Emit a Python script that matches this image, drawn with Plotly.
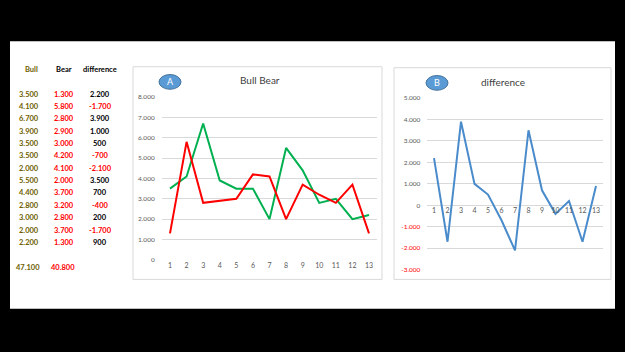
import plotly.graph_objects as go

# ---- data ----
categories = [str(i) for i in range(1, 14)]
bull = [3500, 4100, 6700, 3900, 3500, 3500, 2000, 5500, 4400, 2800, 3000, 2000, 2200]
bear = [1300, 5800, 2800, 2900, 3000, 4200, 4100, 2000, 3700, 3200, 2800, 3700, 1300]
difference = [2200, -1700, 3900, 1000, 500, -700, -2100, 3500, 700, -400, 200, -1700, 900]
bull_total = 47100
bear_total = 40800
ticks_a = [0, 1000, 2000, 3000, 4000, 5000, 6000, 7000, 8000]
ticks_b = [-3000, -2000, -1000, 0, 1000, 2000, 3000, 4000, 5000]

W, H = 625, 352
def px(x):
    return x / W
def py(y):
    return 1 - y / H

def fmt(v):
    s = f"{abs(v):,}".replace(",", ".")
    return ("-" if v < 0 else "") + s

FONT = "Lato"
OLIVE = "#6E5E00"
GREEN = "#00B050"
RED = "#FF0000"
BLUE = "#4A8BCB"
GRID = "#D9D9D9"
TICK = "#595959"

fig = go.Figure()
fig.add_trace(go.Scatter(x=categories, y=bull, mode="lines", line=dict(color=GREEN, width=2),
                         xaxis="x", yaxis="y", name="Bull"))
fig.add_trace(go.Scatter(x=categories, y=bear, mode="lines", line=dict(color=RED, width=2),
                         xaxis="x", yaxis="y", name="Bear"))
fig.add_trace(go.Scatter(x=categories, y=difference, mode="lines", line=dict(color=BLUE, width=2),
                         xaxis="x2", yaxis="y2", name="difference"))

shapes = [
    dict(type="rect", xref="paper", yref="paper", x0=px(10), x1=px(615), y0=py(311), y1=py(38),
         fillcolor="white", line=dict(width=0), layer="below"),
    dict(type="rect", xref="paper", yref="paper", x0=px(133), x1=px(382), y0=py(281), y1=py(64),
         fillcolor="rgba(0,0,0,0)", line=dict(color=GRID, width=1), layer="below"),
    dict(type="rect", xref="paper", yref="paper", x0=px(394), x1=px(611), y0=py(281), y1=py(65),
         fillcolor="rgba(0,0,0,0)", line=dict(color=GRID, width=1), layer="below"),
    dict(type="circle", xref="paper", yref="paper", x0=px(159), x1=px(181), y0=py(87), y1=py(72),
         fillcolor="#5B9BD5", line=dict(color="#41719C", width=1)),
    dict(type="circle", xref="paper", yref="paper", x0=px(426), x1=px(448), y0=py(88), y1=py(73),
         fillcolor="#5B9BD5", line=dict(color="#41719C", width=1)),
]

ann = []
def text(x, y, t, color="black", size=7.5, bold=True, xanchor="center"):
    ann.append(dict(x=px(x), y=py(y), xref="paper", yref="paper", text=(f"<b>{t}</b>" if bold else t),
                    showarrow=False, font=dict(family=FONT, size=size, color=color),
                    xanchor=xanchor, yanchor="middle"))

# table
text(31, 67, "Bull", OLIVE)
text(64, 67, "Bear", "black")
text(100, 67, "difference", "black")
row_y0, row_dy = 92, 12.6
for i in range(len(bull)):
    y = row_y0 + i * row_dy
    text(29, y, fmt(bull[i]), OLIVE)
    text(64, y, fmt(bear[i]), RED)
    text(100, y, fmt(difference[i]), RED if difference[i] < 0 else "black")
text(28, 269, fmt(bull_total), OLIVE)
text(63, 269, fmt(bear_total), RED)

# titles and circle letters
text(260, 78, "Bull Bear", "#404040", size=10, bold=False)
text(503, 80, "difference", "#404040", size=10, bold=False)
text(170, 79.5, "A", "white", size=9, bold=False)
text(437, 80.5, "B", "white", size=9, bold=False)

ticktext_b = [(f"<span style='color:{RED}'>{fmt(v)}</span>" if v < 0 else fmt(v)) for v in ticks_b]

fig.update_layout(
    width=W, height=H, margin=dict(l=0, r=0, t=0, b=0),
    paper_bgcolor="black", plot_bgcolor="rgba(0,0,0,0)",
    showlegend=False, shapes=shapes, annotations=ann,
    font=dict(family=FONT, size=6.5, color=TICK),
    xaxis=dict(domain=[px(161.7), px(377.3)], anchor="y", range=[-0.5, 12.5], showgrid=False,
               showline=False, zeroline=False, ticks="", tickfont=dict(size=7, color=TICK)),
    yaxis=dict(domain=[py(261), py(95)], anchor="x", range=[0, 8000], tickvals=ticks_a,
               ticktext=[fmt(v) for v in ticks_a], showgrid=True, gridcolor=GRID, gridwidth=1,
               zeroline=False, showline=False, ticks="", ticklabelstandoff=6,
               tickfont=dict(size=6.5, color=TICK)),
    xaxis2=dict(domain=[px(427.25), px(602.75)], anchor="free", position=py(205.4),
                range=[-0.5, 12.5], showgrid=False, showline=False, zeroline=False, ticks="",
                tickfont=dict(size=7, color=TICK)),
    yaxis2=dict(domain=[py(271), py(96)], anchor="x2", range=[-3000, 5000], tickvals=ticks_b,
                ticktext=ticktext_b, showgrid=True, gridcolor=GRID, gridwidth=1,
                zeroline=False, showline=False, ticks="", ticklabelstandoff=6,
                tickfont=dict(size=6.5, color=TICK)),
)

fig.write_html("out.html")
